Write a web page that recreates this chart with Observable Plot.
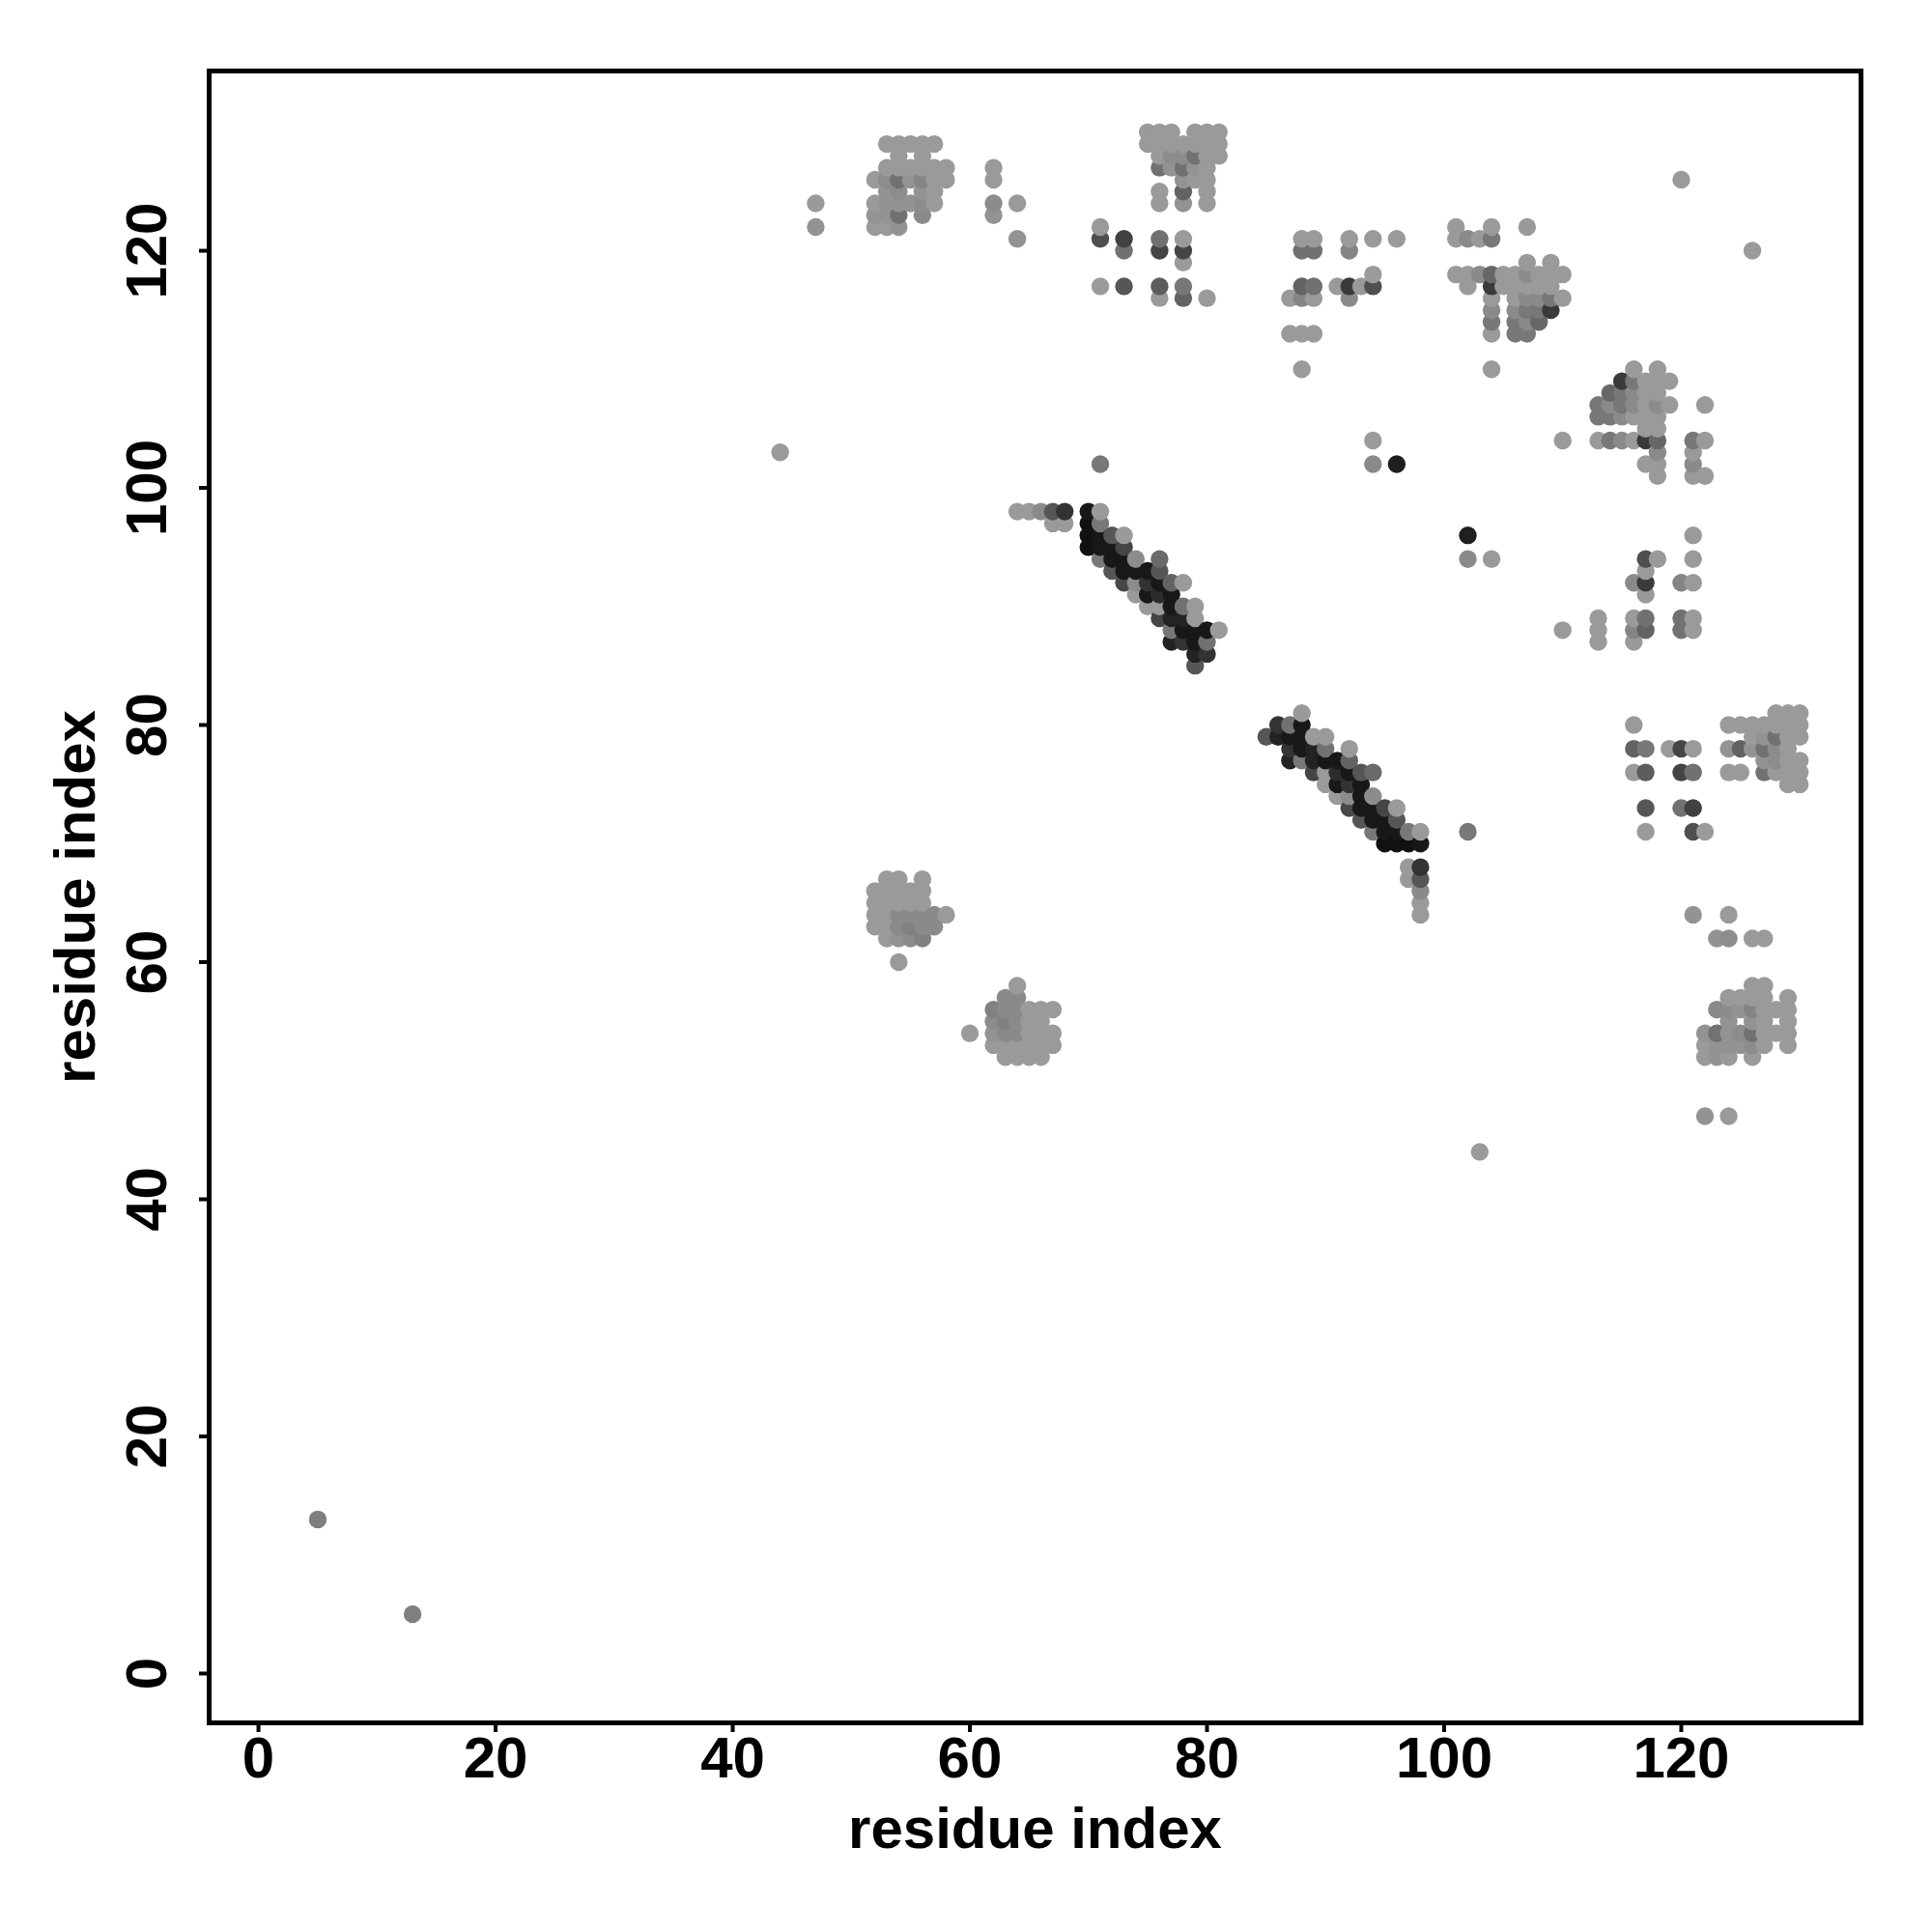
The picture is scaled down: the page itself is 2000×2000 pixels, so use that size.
<!DOCTYPE html>
<html>
<head>
<meta charset="utf-8">
<script src="https://cdn.jsdelivr.net/npm/d3@7"></script>
<script src="https://cdn.jsdelivr.net/npm/@observablehq/plot@0.6"></script>
<style>
  body { margin: 0; background: #fff; }
  svg { display: block; }
</style>
</head>
<body>
<div id="chart"></div>
<script>
// Contacts of the upper triangle as [residue i, residue j, score]; the map is symmetric.
const singles = [
  [5,13,0.2],[44,103,0],[47,122,0.05],[47,124,0],[71,102,0.25],
  [94,102,0.12],[94,104,0],[96,102,0.9],[120,126,0]
];
const clusterA = [
  [52,122,0],[53,122,0],[54,122,0.05],
  [52,123,0.05],[53,123,0.05],[54,123,0.3],[56,123,0.12],
  [52,124,0],[53,124,0.05],[54,124,0.05],[55,124,0.05],[56,124,0.1],[57,124,0],
  [53,125,0.05],[54,125,0.1],[56,125,0.05],[57,125,0],
  [52,126,0],[53,126,0.1],[54,126,0.3],[55,126,0.05],[56,126,0.15],[57,126,0],[58,126,0],
  [53,127,0],[54,127,0],[55,127,0],[56,127,0],[57,127,0],[58,127,0],
  [54,128,0],[56,128,0],
  [53,129,0],[54,129,0],[55,129,0],[56,129,0],[57,129,0],
  [62,123,0.05],[62,124,0.1],[62,126,0],[62,127,0],[64,121,0.05],[64,124,0]
];
const clusterB = [
  [71,117,0],[71,121,0.55],[71,122,0],
  [73,117,0.5],[73,120,0.3],[73,121,0.65],
  [75,129,0],[75,130,0],
  [76,116,0],[76,117,0.45],[76,120,0.62],[76,121,0.3],[76,124,0],[76,125,0],[76,127,0.3],[76,128,0],[76,129,0],[76,130,0],
  [77,127,0.05],[77,128,0.1],[77,129,0],[77,130,0],
  [78,116,0.4],[78,117,0.25],[78,119,0],[78,120,0.62],[78,121,0],[78,124,0.05],[78,125,0.4],[78,126,0.05],[78,127,0.3],[78,128,0.1],[78,129,0],
  [79,126,0],[79,127,0.05],[79,128,0.3],[79,129,0],[79,130,0],
  [80,116,0],[80,124,0],[80,125,0],[80,126,0],[80,127,0],[80,128,0],[80,129,0],[80,130,0],
  [81,128,0],[81,129,0],[81,130,0]
];
const strandPair = [
  [64,98,0],[65,98,0],[66,98,0.12],[67,97,0],[67,98,0.5],[68,97,0],[68,98,0.75],
  [70,95,1],[70,96,1],[70,97,1],[70,98,0.95],
  [71,94,0.25],[71,95,0.95],[71,96,0.95],[71,97,0.25],[71,98,0],
  [72,93,0.5],[72,94,0.95],[72,95,0.95],[72,96,0.5],
  [73,92,0.6],[73,93,0.95],[73,94,0.95],[73,95,0.62],[73,96,0],
  [74,91,0],[74,92,0.1],[74,93,0.95],[74,94,0.1],
  [75,90,0],[75,91,0.95],[75,92,0.75],[75,93,0.95],
  [76,89,0.62],[76,90,0],[76,91,0.8],[76,92,0.95],[76,93,0.5],[76,94,0.35],
  [77,87,0.87],[77,88,0.25],[77,89,0.87],[77,90,0.95],[77,91,0.95],[77,92,0.4],
  [78,87,0.75],[78,88,0.95],[78,89,0.87],[78,90,0.3],[78,92,0],
  [79,85,0.5],[79,86,0.87],[79,87,0.95],[79,88,0.95],[79,89,0],[79,90,0],
  [80,86,0.75],[80,87,0.3],[80,88,0.95],
  [81,88,0]
];
const clusterC = [
  [87,113,0],[87,116,0],
  [88,110,0],[88,113,0],[88,116,0.15],[88,117,0.4],[88,120,0.3],[88,121,0],
  [89,113,0],[89,116,0],[89,117,0.3],[89,120,0.3],[89,121,0],
  [91,117,0],
  [92,116,0.12],[92,117,0.7],[92,120,0.15],[92,121,0],
  [93,117,0],
  [94,117,0.55],[94,118,0],[94,121,0],
  [96,121,0]
];
const clusterD = [
  [101,118,0],[101,121,0],[101,122,0],
  [102,117,0],[102,118,0],[102,121,0.12],
  [103,118,0.12],[103,121,0],
  [104,110,0],[104,113,0],[104,114,0.25],[104,115,0.12],[104,116,0],[104,117,0.7],[104,118,0.37],[104,121,0.25],[104,122,0],
  [105,117,0],[105,118,0],
  [106,113,0.25],[106,114,0.25],[106,115,0.12],[106,116,0],[106,117,0],[106,118,0],
  [107,113,0.25],[107,114,0.12],[107,115,0.25],[107,116,0.12],[107,117,0],[107,118,0.1],[107,119,0],[107,122,0],
  [108,114,0.37],[108,115,0.25],[108,116,0.12],[108,117,0],[108,118,0],
  [109,115,0.7],[109,116,0.25],[109,117,0],[109,118,0],[109,119,0],
  [110,116,0],[110,118,0]
];
const clusterE = [
  [52,63,0],[52,64,0],[52,65,0],[52,66,0],
  [53,62,0],[53,63,0],[53,64,0],[53,65,0],[53,66,0],[53,67,0],
  [54,60,0],[54,62,0.05],[54,63,0.12],[54,64,0.12],[54,65,0],[54,66,0],[54,67,0],
  [55,62,0.1],[55,63,0.18],[55,64,0.12],[55,65,0],[55,66,0],
  [56,62,0.18],[56,63,0.12],[56,64,0.12],[56,65,0],[56,66,0],[56,67,0],
  [57,63,0.12],[57,64,0.12],
  [58,64,0]
];
const xTicks = [0, 20, 40, 60, 80, 100, 120];
const yTicks = [0, 20, 40, 60, 80, 100, 120];
const xTitle = "residue index";
const yTitle = "residue index";

const upper = [].concat(singles, clusterA, clusterB, strandPair, clusterC, clusterD, clusterE);
const contacts = [];
for (const [i, j, s] of upper) {
  contacts.push({x: i, y: j, s});
  contacts.push({x: j, y: i, s});
}
contacts.sort((a, b) => a.x - b.x || a.y - b.y);

const font = "'Liberation Sans', Arial, Helvetica, sans-serif";
const chart = Plot.plot({
  width: 2000,
  height: 2000,
  marginLeft: 216,
  marginRight: 74,
  marginTop: 73,
  marginBottom: 217,
  x: {domain: [-4.16, 135.16], axis: null},
  y: {domain: [-4.16, 135.16], axis: null},
  color: {type: "linear", domain: [0, 1], range: ["#9a9a9a", "#111111"]},
  style: {fontFamily: font, background: "white", color: "black"},
  marks: [
    Plot.dot(contacts, {x: "x", y: "y", fill: "s", r: 9.2}),
    Plot.frame({stroke: "black", strokeWidth: 5}),
    Plot.axisX({ticks: xTicks, tickSize: 10, strokeWidth: 4, tickFormat: () => "", label: null}),
    Plot.axisY({ticks: yTicks, tickSize: 10, strokeWidth: 4, tickFormat: () => "", label: null}),
    Plot.text(xTicks, {x: d => d, text: d => String(d), frameAnchor: "bottom", dy: 37, fontSize: 60, fontWeight: "bold", lineAnchor: "middle", fill: "black"}),
    Plot.text(yTicks, {y: d => d, text: d => String(d), frameAnchor: "left", dx: -64, rotate: -90, fontSize: 60, fontWeight: "bold", textAnchor: "middle", lineAnchor: "middle", fill: "black"}),
    Plot.text([xTitle], {text: d => d, frameAnchor: "bottom", dy: 110, fontSize: 60, fontWeight: "bold", lineAnchor: "middle", fill: "black"}),
    Plot.text([yTitle], {text: d => d, frameAnchor: "left", dx: -138, rotate: -90, fontSize: 60, fontWeight: "bold", textAnchor: "middle", lineAnchor: "middle", fill: "black"})
  ]
});
document.getElementById("chart").appendChild(chart);
</script>
</body>
</html>
